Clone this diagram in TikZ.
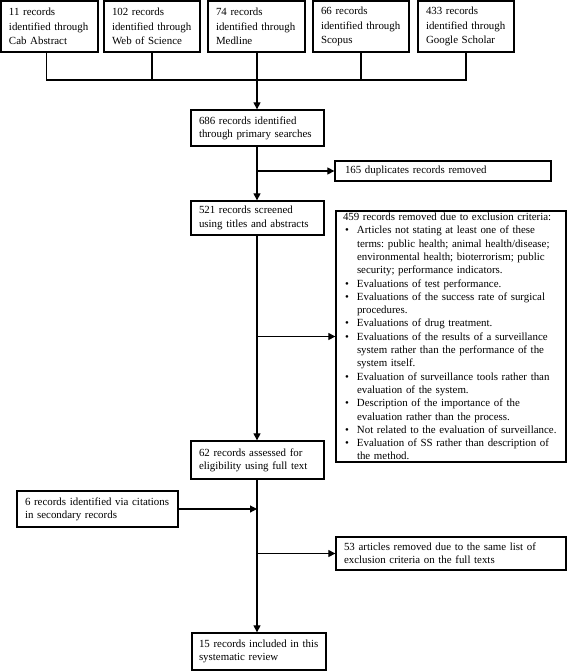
\documentclass[tikz,border=0pt]{standalone}
\usepackage{fontspec}
\setmainfont{Liberation Serif}
\usetikzlibrary{arrows.meta}
\frenchspacing
\newcommand\bul[1]{\makebox[14pt][l]{\hspace{2pt}\textbullet}#1}
\newcommand\cnt[1]{\hspace{14pt}#1}
\begin{document}
\begin{tikzpicture}[x=1pt,y=-1pt,
  bx/.style={draw, line width=1.3pt, align=left, inner xsep=8pt, inner ysep=2pt,
    font=\fontsize{10.9}{13.3}\selectfont},
  topbx/.style={bx, font=\fontsize{10.9}{14.5}\selectfont},
  ln/.style={line width=1.1pt},
  arr/.style={ln, -{Triangle[length=7pt,width=7pt]}}]
\useasboundingbox (0,0) rectangle (568,671);
% top row
\node[topbx, minimum width=97, minimum height=51, text width=81] (A1) at (49.5,26.5) {11 records\\identified through\\Cab Abstract};
\node[topbx, minimum width=96, minimum height=51, text width=80] (A2) at (152,26.5) {102 records\\identified through\\Web of Science};
\node[topbx, minimum width=97, minimum height=51, text width=81] (A3) at (256.5,26.5) {74 records\\identified through\\Medline};
\node[topbx, minimum width=96, minimum height=51, text width=80] (A4) at (361,26.5) {66 records\\identified through\\Scopus};
\node[topbx, minimum width=96, minimum height=51, text width=80] (A5) at (466,26.5) {433 records\\identified through\\Google Scholar};
% main flow
\node[bx, minimum width=133, minimum height=36, text width=117] (B) at (257.5,128) {686 records identified\\through primary searches};
\node[bx, minimum width=216, minimum height=20, text width=196, inner xsep=10pt] (D) at (443,171) {165 duplicates records removed};
\node[bx, minimum width=133, minimum height=34, text width=117] (C) at (257.5,218) {521 records screened\\using titles and abstracts};
\node[bx, minimum width=230, minimum height=249, text width=216, inner xsep=7pt] (E) at (451,336.5) {459 records removed due to exclusion criteria:\\
\bul{Articles not stating at least one of these}\\
\cnt{terms: public health; animal health/disease;}\\
\cnt{environmental health; bioterrorism; public}\\
\cnt{security; performance indicators.}\\
\bul{Evaluations of test performance.}\\
\bul{Evaluations of the success rate of surgical}\\
\cnt{procedures.}\\
\bul{Evaluations of drug treatment.}\\
\bul{Evaluations of the results of a surveillance}\\
\cnt{system rather than the performance of the}\\
\cnt{system itself.}\\
\bul{Evaluation of surveillance tools rather than}\\
\cnt{evaluation of the system.}\\
\bul{Description of the importance of the}\\
\cnt{evaluation rather than the process.}\\
\bul{Not related to the evaluation of surveillance.}\\
\bul{Evaluation of SS rather than description of}\\
\cnt{the method.}};
\node[bx, minimum width=133, minimum height=38, text width=117] (F) at (257.5,460) {62 records assessed for\\eligibility using full text};
\node[bx, minimum width=161, minimum height=36, text width=145] (G) at (97.5,509) {6 records identified via citations\\in secondary records};
\node[bx, minimum width=230, minimum height=33, text width=214] (H) at (451,553.5) {53 articles removed due to the same list of\\exclusion criteria on the full texts};
\node[bx, minimum width=134, minimum height=37, text width=124, inner xsep=5pt] (I) at (259,651.5) {\hspace{2pt}15 records included in this\\\hspace{2pt}systematic review};
% connectors top
\coordinate (J) at (257,80);
\draw[ln] ([xshift=-3pt]A1.south) -- ([xshift=-3pt]A1.south |- J) -- (A5.south |- J) -- (A5.south);
\draw[ln] (A2.south) -- (A2.south |- J);
\draw[ln] (A4.south) -- (A4.south |- J);
\draw[ln] (J |- A3.south) -- (J);
\draw[arr] (J) -- (J |- B.north);
% main vertical
\draw[arr] (J |- B.south) -- (J |- C.north);
\draw[arr] (J |- D.west) -- (D.west);
\draw[arr] (J |- C.south) -- (J |- F.north);
\draw[arr] (J |- E.west) -- (E.west);
\draw[arr] (J |- F.south) -- (J |- I.north);
\draw[arr] (G.east) -- (J |- G.east);
\draw[arr] (J |- H.west) -- (H.west);
\end{tikzpicture}
\end{document}
